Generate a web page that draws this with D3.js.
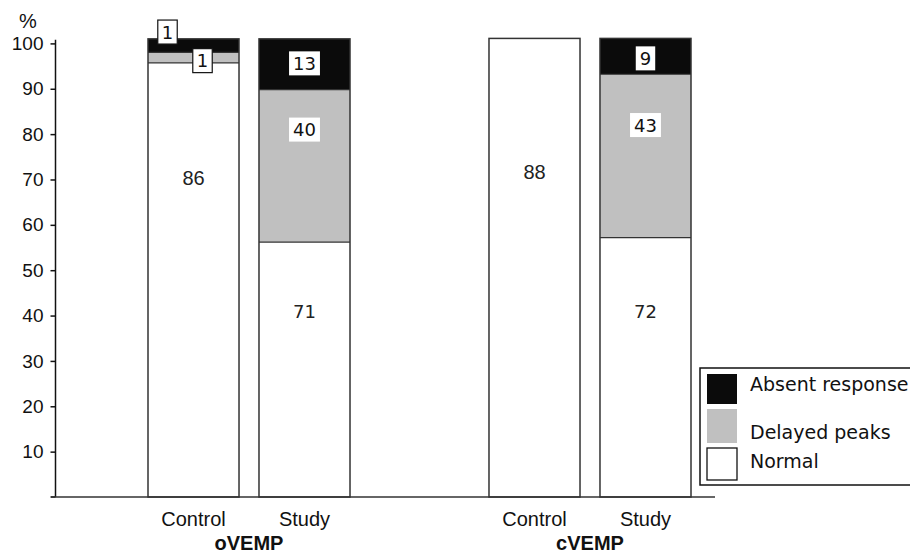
<!DOCTYPE html>
<html>
<head>
<meta charset="utf-8">
<script src="https://cdn.jsdelivr.net/npm/d3@7"></script>
<style>
  html, body { margin: 0; padding: 0; background: #fff; }
  svg { display: block; }
</style>
</head>
<body>
<svg id="chart" width="910" height="555"></svg>
<script>
// ---- data (percent heights, labels are counts) ----
const groups = ["oVEMP", "cVEMP"];
const subgroups = ["Control", "Study"];
const seriesNames = ["Normal", "Delayed peaks", "Absent response"];
const normalPct  = [95.7, 56.2, 101.1, 57.2];   // Control oVEMP, Study oVEMP, Control cVEMP, Study cVEMP
const delayedPct = [2.3, 33.6, 0, 36.0];
const absentPct  = [3.0, 11.2, 0, 7.9];
const normalCount  = ["86", "71", "88", "72"];
const delayedCount = ["1", "40", "", "43"];
const absentCount  = ["1", "13", "", "9"];
const yTicks = [10, 20, 30, 40, 50, 60, 70, 80, 90, 100];

// label anchor levels (in % units) for each count label
const normalLabelAt  = [70.3, 40.8, 71.6, 40.8];
const delayedLabelAt = [96.2, 81.0, 0, 82.0];
const absentLabelAt  = [102.5, 95.6, 0, 96.7];

const colors = { "Normal": "#ffffff", "Delayed peaks": "#c0c0c0", "Absent response": "#0b0b0b" };

const svg = d3.select("#chart");
const SANS = "Liberation Sans, Arial, sans-serif";
const DJV = "DejaVu Sans, sans-serif";

const y = d3.scaleLinear().domain([0, 100]).range([497, 43.4]);
const x0 = d3.scaleBand().domain(groups).range([148, 691]).paddingInner(0.4076).paddingOuter(0);
const x1 = d3.scaleBand().domain(subgroups).range([0, x0.bandwidth()]).paddingInner(0.18).paddingOuter(0);

const bars = [];
groups.forEach((g, gi) => subgroups.forEach((s, si) => {
  const i = gi * 2 + si;
  bars.push({ group: g, sub: s, i,
    vals: { "Normal": normalPct[i], "Delayed peaks": delayedPct[i], "Absent response": absentPct[i] } });
}));
const stack = d3.stack().keys(seriesNames).value((d, k) => d.vals[k]);
const stacked = stack(bars);

const barX = d => x0(d.data.group) + x1(d.data.sub);

// bars
stacked.forEach(layer => {
  svg.append("g").selectAll("rect").data(layer.filter(d => d[1] - d[0] > 0)).join("rect")
    .attr("x", barX)
    .attr("y", d => y(d[1]))
    .attr("width", x1.bandwidth())
    .attr("height", d => y(d[0]) - y(d[1]))
    .attr("fill", colors[layer.key])
    .attr("stroke", "none");
});
// bar outlines
svg.append("g").selectAll("rect").data(stacked[stacked.length - 1]).join("rect")
  .attr("x", barX)
  .attr("y", d => y(d[1]))
  .attr("width", x1.bandwidth())
  .attr("height", d => y(0) - y(d[1]))
  .attr("fill", "none")
  .attr("stroke", "#333")
  .attr("stroke-width", 1.5);
// segment boundary lines
stacked.slice(0, 2).forEach(layer => {
  svg.append("g").selectAll("line").data(layer.filter(d => d[1] - d[0] > 0 && d[1] < 100)).join("line")
    .attr("x1", barX).attr("x2", d => barX(d) + x1.bandwidth())
    .attr("y1", d => y(d[1])).attr("y2", d => y(d[1]))
    .attr("stroke", "#333").attr("stroke-width", 1.2);
});

// y axis
const yAxis = d3.axisLeft(y).tickValues(yTicks).tickSize(5).tickSizeOuter(0).tickPadding(7);
const gy = svg.append("g").attr("transform", "translate(55.5,0)").call(yAxis);
gy.select(".domain").attr("d", `M0,${y(100.8)}V${y(0)}`).attr("stroke", "#111").attr("stroke-width", 1.5);
gy.selectAll(".tick line").attr("stroke", "#111").attr("stroke-width", 1.5);
gy.selectAll(".tick text").attr("font-family", SANS)
  .attr("font-size", 19).attr("fill", "#111");
// zero tick
gy.append("line").attr("x1", -5).attr("x2", 0).attr("y1", y(0)).attr("y2", y(0))
  .attr("stroke", "#111").attr("stroke-width", 1.5);

svg.append("text").attr("x", 28).attr("y", 28).attr("text-anchor", "middle")
  .attr("font-family", SANS).attr("font-size", 20).attr("fill", "#111").text("%");

// x axis line
svg.append("line").attr("x1", 51).attr("x2", 715).attr("y1", y(0)).attr("y2", y(0))
  .attr("stroke", "#333").attr("stroke-width", 1.5);

// category labels
svg.append("g").selectAll("text").data(bars).join("text")
  .attr("x", d => x0(d.group) + x1(d.sub) + x1.bandwidth() / 2)
  .attr("y", 526)
  .attr("text-anchor", "middle")
  .attr("font-family", SANS)
  .attr("font-size", 20).attr("fill", "#111")
  .text(d => d.sub);
svg.append("g").selectAll("text").data(groups).join("text")
  .attr("x", g => x0(g) + x0.bandwidth() / 2)
  .attr("y", 550)
  .attr("text-anchor", "middle")
  .attr("font-family", SANS)
  .attr("font-weight", "bold")
  .attr("font-size", 20).attr("fill", "#111")
  .text(g => g);

// count labels
const cx = b => x0(b.group) + x1(b.sub) + x1.bandwidth() / 2;

// normal labels (no box)
svg.append("g").selectAll("text").data(bars).join("text")
  .attr("x", cx).attr("y", d => y(normalLabelAt[d.i]))
  .attr("dy", "0.36em").attr("text-anchor", "middle")
  .attr("font-family", d => d.i % 2 ? DJV : SANS)
  .attr("font-size", d => d.i % 2 ? 18 : 20)
  .attr("fill", "#222").text(d => normalCount[d.i]);

// boxed labels
function boxedLabel(b, text, level, dxShift, bordered) {
  const g = svg.append("g");
  const t = g.append("text")
    .attr("x", cx(b) + dxShift).attr("y", y(level))
    .attr("dy", "0.36em").attr("text-anchor", "middle")
    .attr("font-family", DJV).attr("font-size", 18)
    .attr("fill", "#111").text(text);
  const bb = t.node().getBBox();
  g.insert("rect", "text")
    .attr("x", bb.x - 4).attr("y", y(level) - 12)
    .attr("width", bb.width + 8).attr("height", 24)
    .attr("fill", "#fff")
    .attr("stroke", bordered ? "#111" : "none").attr("stroke-width", 1.2);
}
bars.forEach(b => {
  if (b.sub === "Control") {
    if (absentCount[b.i]) boxedLabel(b, absentCount[b.i], absentLabelAt[b.i], -26, true);
    if (delayedCount[b.i]) boxedLabel(b, delayedCount[b.i], delayedLabelAt[b.i], 9, true);
  } else {
    if (absentCount[b.i]) boxedLabel(b, absentCount[b.i], absentLabelAt[b.i], 0, false);
    if (delayedCount[b.i]) boxedLabel(b, delayedCount[b.i], delayedLabelAt[b.i], 0, false);
  }
});

// legend
const lg = svg.append("g");
lg.append("rect").attr("x", 700).attr("y", 368).attr("width", 215).attr("height", 117)
  .attr("fill", "#fff").attr("stroke", "#111").attr("stroke-width", 1.5);
const legendItems = ["Absent response", "Delayed peaks", "Normal"];
const swY = [374, 409, 448];
const swH = [30, 34, 32];
const txY = [391, 439, 468];
legendItems.forEach((k, i) => {
  lg.append("rect").attr("x", 707).attr("y", swY[i]).attr("width", 30).attr("height", swH[i])
    .attr("fill", colors[k]).attr("stroke", k === "Normal" ? "#111" : "none").attr("stroke-width", 1.3);
  lg.append("text").attr("x", 750).attr("y", txY[i])
    .attr("font-family", DJV).attr("font-size", 19).attr("fill", "#111").text(k);
});
</script>
</body>
</html>
